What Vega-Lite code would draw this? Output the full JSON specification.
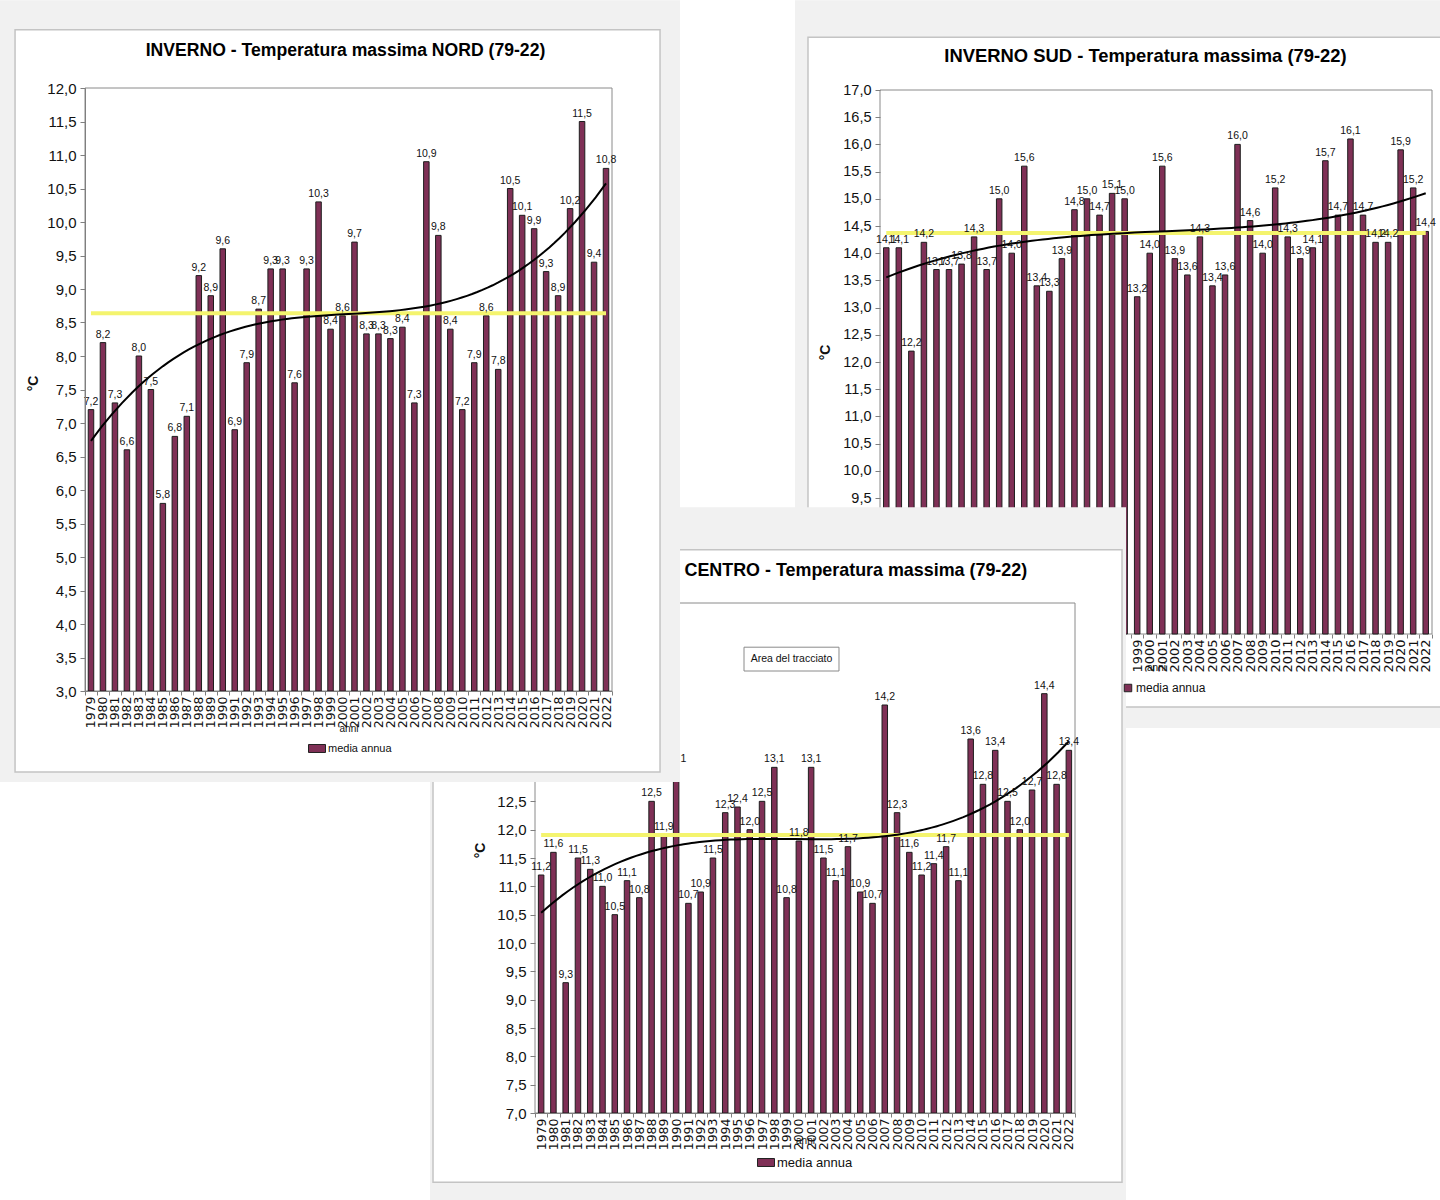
{
  "$schema": "https://vega.github.io/schema/vega-lite/v6.json",
  "width": 1440,
  "height": 1200,
  "autosize": {"type": "none"},
  "padding": 0,
  "background": "white",
  "config": {
    "locale": {"number": {"decimal": ",", "thousands": ".", "grouping": [3], "currency": ["€", ""]}},
    "view": {"stroke": null},
    "scale": {"continuousPadding": 0}
  },
  "datasets": {
    "nord": [
      {"anno": 1979, "t": 7.2}, {"anno": 1980, "t": 8.2}, {"anno": 1981, "t": 7.3}, {"anno": 1982, "t": 6.6},
      {"anno": 1983, "t": 8.0}, {"anno": 1984, "t": 7.5}, {"anno": 1985, "t": 5.8}, {"anno": 1986, "t": 6.8},
      {"anno": 1987, "t": 7.1}, {"anno": 1988, "t": 9.2}, {"anno": 1989, "t": 8.9}, {"anno": 1990, "t": 9.6},
      {"anno": 1991, "t": 6.9}, {"anno": 1992, "t": 7.9}, {"anno": 1993, "t": 8.7}, {"anno": 1994, "t": 9.3},
      {"anno": 1995, "t": 9.3}, {"anno": 1996, "t": 7.6}, {"anno": 1997, "t": 9.3}, {"anno": 1998, "t": 10.3},
      {"anno": 1999, "t": 8.4}, {"anno": 2000, "t": 8.6}, {"anno": 2001, "t": 9.7}, {"anno": 2002, "t": 8.33},
      {"anno": 2003, "t": 8.33}, {"anno": 2004, "t": 8.26}, {"anno": 2005, "t": 8.43}, {"anno": 2006, "t": 7.3},
      {"anno": 2007, "t": 10.9}, {"anno": 2008, "t": 9.8}, {"anno": 2009, "t": 8.4}, {"anno": 2010, "t": 7.2},
      {"anno": 2011, "t": 7.9}, {"anno": 2012, "t": 8.6}, {"anno": 2013, "t": 7.8}, {"anno": 2014, "t": 10.5},
      {"anno": 2015, "t": 10.1}, {"anno": 2016, "t": 9.9}, {"anno": 2017, "t": 9.26}, {"anno": 2018, "t": 8.9},
      {"anno": 2019, "t": 10.2}, {"anno": 2020, "t": 11.5}, {"anno": 2021, "t": 9.4}, {"anno": 2022, "t": 10.8}
    ],
    "sud": [
      {"anno": 1979, "t": 14.1}, {"anno": 1980, "t": 14.1}, {"anno": 1981, "t": 12.2}, {"anno": 1982, "t": 14.2},
      {"anno": 1983, "t": 13.7}, {"anno": 1984, "t": 13.7}, {"anno": 1985, "t": 13.8}, {"anno": 1986, "t": 14.3},
      {"anno": 1987, "t": 13.7}, {"anno": 1988, "t": 15.0}, {"anno": 1989, "t": 14.0}, {"anno": 1990, "t": 15.6},
      {"anno": 1991, "t": 13.4}, {"anno": 1992, "t": 13.3}, {"anno": 1993, "t": 13.9}, {"anno": 1994, "t": 14.8},
      {"anno": 1995, "t": 15.0}, {"anno": 1996, "t": 14.7}, {"anno": 1997, "t": 15.1}, {"anno": 1998, "t": 15.0},
      {"anno": 1999, "t": 13.2}, {"anno": 2000, "t": 14.0}, {"anno": 2001, "t": 15.6}, {"anno": 2002, "t": 13.9},
      {"anno": 2003, "t": 13.6}, {"anno": 2004, "t": 14.3}, {"anno": 2005, "t": 13.4}, {"anno": 2006, "t": 13.6},
      {"anno": 2007, "t": 16.0}, {"anno": 2008, "t": 14.6}, {"anno": 2009, "t": 14.0}, {"anno": 2010, "t": 15.2},
      {"anno": 2011, "t": 14.3}, {"anno": 2012, "t": 13.9}, {"anno": 2013, "t": 14.1}, {"anno": 2014, "t": 15.7},
      {"anno": 2015, "t": 14.7}, {"anno": 2016, "t": 16.1}, {"anno": 2017, "t": 14.7}, {"anno": 2018, "t": 14.2},
      {"anno": 2019, "t": 14.2}, {"anno": 2020, "t": 15.9}, {"anno": 2021, "t": 15.2}, {"anno": 2022, "t": 14.4}
    ],
    "centro": [
      {"anno": 1979, "t": 11.2}, {"anno": 1980, "t": 11.6}, {"anno": 1981, "t": 9.3}, {"anno": 1982, "t": 11.5},
      {"anno": 1983, "t": 11.3}, {"anno": 1984, "t": 11.0}, {"anno": 1985, "t": 10.5}, {"anno": 1986, "t": 11.1},
      {"anno": 1987, "t": 10.8}, {"anno": 1988, "t": 12.5}, {"anno": 1989, "t": 11.9}, {"anno": 1990, "t": 13.1},
      {"anno": 1991, "t": 10.7}, {"anno": 1992, "t": 10.9}, {"anno": 1993, "t": 11.5}, {"anno": 1994, "t": 12.3},
      {"anno": 1995, "t": 12.4}, {"anno": 1996, "t": 12.0}, {"anno": 1997, "t": 12.5}, {"anno": 1998, "t": 13.1},
      {"anno": 1999, "t": 10.8}, {"anno": 2000, "t": 11.8}, {"anno": 2001, "t": 13.1}, {"anno": 2002, "t": 11.5},
      {"anno": 2003, "t": 11.1}, {"anno": 2004, "t": 11.7}, {"anno": 2005, "t": 10.9}, {"anno": 2006, "t": 10.7},
      {"anno": 2007, "t": 14.2}, {"anno": 2008, "t": 12.3}, {"anno": 2009, "t": 11.6}, {"anno": 2010, "t": 11.2},
      {"anno": 2011, "t": 11.4}, {"anno": 2012, "t": 11.7}, {"anno": 2013, "t": 11.1}, {"anno": 2014, "t": 13.6},
      {"anno": 2015, "t": 12.8}, {"anno": 2016, "t": 13.4}, {"anno": 2017, "t": 12.5}, {"anno": 2018, "t": 12.0},
      {"anno": 2019, "t": 12.7}, {"anno": 2020, "t": 14.4}, {"anno": 2021, "t": 12.8}, {"anno": 2022, "t": 13.4}
    ]
  },
  "resolve": {
    "scale": {"x": "independent", "y": "independent", "color": "independent"},
    "axis": {"x": "independent", "y": "independent"},
    "legend": {"color": "independent"}
  },
  "layer": [
    {
      "resolve": {"axis": {"x": "independent", "y": "independent"}},
      "layer": [
        {
          "data": {"values": [{}]},
          "mark": {"type": "rect", "fill": "#f1f1f1"},
          "encoding": {
            "x": {"datum": 1971.72, "type": "quantitative", "scale": {"domain": [1978.5, 2022.5], "range": [880, 1432], "nice": false, "zero": false, "padding": 0}, "axis": null},
            "x2": {"datum": 2024.5},
            "y": {"datum": 18.65, "type": "quantitative", "scale": {"domain": [7, 17], "range": [634, 90], "nice": false, "zero": false, "padding": 0}, "axis": null},
            "y2": {"datum": 5.27}
          }
        },
        {
          "data": {"values": [{}]},
          "mark": {"type": "rect", "fill": "white", "stroke": "#c4c4c4", "strokeWidth": 1.5},
          "encoding": {
            "x": {"datum": 1972.76, "type": "quantitative", "scale": {"domain": [1978.5, 2022.5], "range": [880, 1432], "nice": false, "zero": false, "padding": 0}, "axis": null},
            "x2": {"datum": 2024.5},
            "y": {"datum": 17.97, "type": "quantitative", "scale": {"domain": [7, 17], "range": [634, 90], "nice": false, "zero": false, "padding": 0}, "axis": null},
            "y2": {"datum": 5.66}
          }
        },
        {
          "data": {"values": [{}]},
          "mark": {"type": "rect", "fill": "white", "stroke": "#8a8a8a", "strokeWidth": 1},
          "encoding": {
            "x": {"datum": 1978.5, "type": "quantitative", "scale": {"domain": [1978.5, 2022.5], "range": [880, 1432], "nice": false, "zero": false, "padding": 0}, "axis": null},
            "x2": {"datum": 2022.5},
            "y": {"datum": 17, "type": "quantitative", "scale": {"domain": [7, 17], "range": [634, 90], "nice": false, "zero": false, "padding": 0}, "axis": null},
            "y2": {"datum": 7}
          }
        },
        {
          "data": {"name": "sud"},
          "mark": {"type": "bar", "size": 5.5, "stroke": "#1e1e1e", "strokeWidth": 1},
          "encoding": {
            "x": {"field": "anno", "type": "quantitative", "scale": {"domain": [1978.5, 2022.5], "range": [880, 1432], "nice": false, "zero": false, "padding": 0},
              "axis": {"orient": "bottom", "offset": -566, "values": [1999,2000,2001,2002,2003,2004,2005,2006,2007,2008,2009,2010,2011,2012,2013,2014,2015,2016,2017,2018,2019,2020,2021,2022],
                "format": "d", "labelAngle": -90, "labelFont": "DejaVu Sans", "labelFontSize": 13, "labelColor": "#111", "labelPadding": 5, "labelOverlap": false, "labelFlush": false, "labelBound": false,
                "ticks": false, "domain": false, "grid": false,
                "title": "anni", "titleFont": "Liberation Sans", "titleFontSize": 10, "titleFontWeight": "normal", "titleColor": "#111", "titleY": 33, "titleBaseline": "middle", "zindex": 1}},
            "y": {"field": "t", "type": "quantitative", "scale": {"domain": [7, 17], "range": [634, 90], "nice": false, "zero": false, "padding": 0},
              "axis": {"orient": "left", "offset": -880, "values": [9.5,10,10.5,11,11.5,12,12.5,13,13.5,14,14.5,15,15.5,16,16.5,17],
                "format": ".1f", "labelFont": "Liberation Sans", "labelFontSize": 14.5, "labelColor": "#111", "labelPadding": 4,
                "tickSize": 5, "tickColor": "#7f7f7f", "domain": false, "grid": false, "labelOverlap": false, "labelFlush": false, "labelBound": false,
                "title": "°C", "titleFont": "Liberation Sans", "titleFontSize": 14, "titleFontWeight": "bold", "titleColor": "#111", "titleX": -55, "titleY": 352, "titleBaseline": "middle", "titleAngle": 270, "zindex": 1}},
            "y2": {"datum": 7},
            "color": {"datum": "media annua", "type": "nominal", "scale": {"range": ["#7f3056"]},
              "legend": {"orient": "none", "legendX": 1122, "legendY": 682, "title": null, "labelFont": "Liberation Sans", "labelFontSize": 12, "labelColor": "#111", "labelOffset": 2, "padding": 0, "symbolType": "square", "symbolSize": 56, "symbolStrokeColor": "#222", "symbolStrokeWidth": 1, "symbolOpacity": 1}}
          }
        },
        {
          "data": {"name": "sud"},
          "transform": [{"joinaggregate": [{"op": "mean", "field": "t", "as": "media"}]}],
          "mark": {"type": "line", "color": "#f4f46e", "strokeWidth": 4},
          "encoding": {
            "x": {"field": "anno", "type": "quantitative", "scale": {"domain": [1978.5, 2022.5], "range": [880, 1432], "nice": false, "zero": false, "padding": 0},
              "axis": {"orient": "top", "offset": -90, "labels": false, "ticks": false, "domain": false, "grid": false,
                "title": "INVERNO SUD - Temperatura massima (79-22)", "titleFont": "Liberation Sans", "titleFontSize": 18.4, "titleFontWeight": "bold", "titleColor": "#000", "titleX": 1145, "titleY": -35, "titleBaseline": "middle", "zindex": 1}},
            "y": {"field": "media", "type": "quantitative", "scale": {"domain": [7, 17], "range": [634, 90], "nice": false, "zero": false, "padding": 0}, "axis": null}
          }
        },
        {
          "data": {"name": "sud"},
          "transform": [{"regression": "t", "on": "anno", "method": "poly", "order": 3}],
          "mark": {"type": "line", "color": "#000", "strokeWidth": 2},
          "encoding": {
            "x": {"field": "anno", "type": "quantitative", "scale": {"domain": [1978.5, 2022.5], "range": [880, 1432], "nice": false, "zero": false, "padding": 0},
              "axis": {"orient": "bottom", "offset": -566, "values": [1998.5,1999.5,2000.5,2001.5,2002.5,2003.5,2004.5,2005.5,2006.5,2007.5,2008.5,2009.5,2010.5,2011.5,2012.5,2013.5,2014.5,2015.5,2016.5,2017.5,2018.5,2019.5,2020.5,2021.5,2022.5],
                "labels": false, "ticks": true, "tickSize": 4, "tickColor": "#7f7f7f", "domain": false, "grid": false, "title": null, "zindex": 1}},
            "y": {"field": "t", "type": "quantitative", "scale": {"domain": [7, 17], "range": [634, 90], "nice": false, "zero": false, "padding": 0}, "axis": null}
          }
        },
        {
          "data": {"name": "sud"},
          "mark": {"type": "text", "font": "Liberation Sans", "fontSize": 10.5, "color": "#111", "baseline": "alphabetic", "dy": -5},
          "encoding": {
            "x": {"field": "anno", "type": "quantitative", "scale": {"domain": [1978.5, 2022.5], "range": [880, 1432], "nice": false, "zero": false, "padding": 0}, "axis": null},
            "y": {"field": "t", "type": "quantitative", "scale": {"domain": [7, 17], "range": [634, 90], "nice": false, "zero": false, "padding": 0}, "axis": null},
            "text": {"field": "t", "type": "quantitative", "format": ".1f"}
          }
        }
      ]
    },
    {
      "resolve": {"axis": {"x": "independent", "y": "independent"}},
      "layer": [
        {
          "data": {"values": [{}]},
          "mark": {"type": "rect", "fill": "#f1f1f1"},
          "encoding": {
            "x": {"datum": 1969.94, "type": "quantitative", "scale": {"domain": [1978.5, 2022.5], "range": [535, 1075], "nice": false, "zero": false, "padding": 0}, "axis": null},
            "x2": {"datum": 2026.66},
            "y": {"datum": 17.69, "type": "quantitative", "scale": {"domain": [7, 16], "range": [1113, 603], "nice": false, "zero": false, "padding": 0}, "axis": null},
            "y2": {"datum": 5.2}
          }
        },
        {
          "data": {"values": [{}]},
          "mark": {"type": "rect", "fill": "white", "stroke": "#c4c4c4", "strokeWidth": 1.5},
          "encoding": {
            "x": {"datum": 1970.19, "type": "quantitative", "scale": {"domain": [1978.5, 2022.5], "range": [535, 1075], "nice": false, "zero": false, "padding": 0}, "axis": null},
            "x2": {"datum": 2026.33},
            "y": {"datum": 16.94, "type": "quantitative", "scale": {"domain": [7, 16], "range": [1113, 603], "nice": false, "zero": false, "padding": 0}, "axis": null},
            "y2": {"datum": 5.78}
          }
        },
        {
          "data": {"values": [{}]},
          "mark": {"type": "rect", "fill": "white", "stroke": "#8a8a8a", "strokeWidth": 1},
          "encoding": {
            "x": {"datum": 1978.5, "type": "quantitative", "scale": {"domain": [1978.5, 2022.5], "range": [535, 1075], "nice": false, "zero": false, "padding": 0}, "axis": null},
            "x2": {"datum": 2022.5},
            "y": {"datum": 16, "type": "quantitative", "scale": {"domain": [7, 16], "range": [1113, 603], "nice": false, "zero": false, "padding": 0}, "axis": null},
            "y2": {"datum": 7}
          }
        },
        {
          "data": {"name": "centro"},
          "mark": {"type": "bar", "size": 5.5, "stroke": "#1e1e1e", "strokeWidth": 1},
          "encoding": {
            "x": {"field": "anno", "type": "quantitative", "scale": {"domain": [1978.5, 2022.5], "range": [535, 1075], "nice": false, "zero": false, "padding": 0},
              "axis": {"orient": "bottom", "offset": -87, "values": [1979,1980,1981,1982,1983,1984,1985,1986,1987,1988,1989,1990,1991,1992,1993,1994,1995,1996,1997,1998,1999,2000,2001,2002,2003,2004,2005,2006,2007,2008,2009,2010,2011,2012,2013,2014,2015,2016,2017,2018,2019,2020,2021,2022],
                "format": "d", "labelAngle": -90, "labelFont": "DejaVu Sans", "labelFontSize": 12.5, "labelColor": "#111", "labelPadding": 5, "labelOverlap": false, "labelFlush": false, "labelBound": false,
                "ticks": false, "domain": true, "domainColor": "#7f7f7f", "grid": false,
                "title": "anni", "titleFont": "Liberation Sans", "titleFontSize": 10, "titleFontWeight": "normal", "titleColor": "#111", "titleY": 27, "titleBaseline": "middle", "zindex": 1}},
            "y": {"field": "t", "type": "quantitative", "scale": {"domain": [7, 16], "range": [1113, 603], "nice": false, "zero": false, "padding": 0},
              "axis": {"orient": "left", "offset": -535, "values": [7,7.5,8,8.5,9,9.5,10,10.5,11,11.5,12,12.5],
                "format": ".1f", "labelFont": "Liberation Sans", "labelFontSize": 15, "labelColor": "#111", "labelPadding": 4,
                "tickSize": 5, "tickColor": "#7f7f7f", "domain": false, "grid": false, "labelOverlap": false, "labelFlush": false, "labelBound": false,
                "title": "°C", "titleFont": "Liberation Sans", "titleFontSize": 14, "titleFontWeight": "bold", "titleColor": "#111", "titleX": -55, "titleY": 850, "titleBaseline": "middle", "titleAngle": 270, "zindex": 1}},
            "y2": {"datum": 7},
            "color": {"datum": "media annua", "type": "nominal", "scale": {"range": ["#7f3056"]},
              "legend": {"orient": "none", "legendX": 757, "legendY": 1153.5, "title": null, "labelFont": "Liberation Sans", "labelFontSize": 13, "labelColor": "#111", "labelOffset": 2, "padding": 0, "symbolType": "M-1,-0.47H1V0.47H-1Z", "symbolSize": 289, "symbolStrokeColor": "#222", "symbolStrokeWidth": 1, "symbolOpacity": 1}}
          }
        },
        {
          "data": {"name": "centro"},
          "transform": [{"joinaggregate": [{"op": "mean", "field": "t", "as": "media"}]}],
          "mark": {"type": "line", "color": "#f4f46e", "strokeWidth": 4},
          "encoding": {
            "x": {"field": "anno", "type": "quantitative", "scale": {"domain": [1978.5, 2022.5], "range": [535, 1075], "nice": false, "zero": false, "padding": 0},
              "axis": {"orient": "top", "offset": -603, "labels": false, "ticks": false, "domain": false, "grid": false,
                "title": "CENTRO - Temperatura massima (79-22)", "titleFont": "Liberation Sans", "titleFontSize": 17.9, "titleFontWeight": "bold", "titleColor": "#000", "titleX": 684, "titleAlign": "left", "titleY": -33, "titleBaseline": "middle", "zindex": 1}},
            "y": {"field": "media", "type": "quantitative", "scale": {"domain": [7, 16], "range": [1113, 603], "nice": false, "zero": false, "padding": 0}, "axis": null}
          }
        },
        {
          "data": {"name": "centro"},
          "transform": [{"regression": "t", "on": "anno", "method": "poly", "order": 3}],
          "mark": {"type": "line", "color": "#000", "strokeWidth": 2},
          "encoding": {
            "x": {"field": "anno", "type": "quantitative", "scale": {"domain": [1978.5, 2022.5], "range": [535, 1075], "nice": false, "zero": false, "padding": 0},
              "axis": {"orient": "bottom", "offset": -87, "values": [1978.5,1979.5,1980.5,1981.5,1982.5,1983.5,1984.5,1985.5,1986.5,1987.5,1988.5,1989.5,1990.5,1991.5,1992.5,1993.5,1994.5,1995.5,1996.5,1997.5,1998.5,1999.5,2000.5,2001.5,2002.5,2003.5,2004.5,2005.5,2006.5,2007.5,2008.5,2009.5,2010.5,2011.5,2012.5,2013.5,2014.5,2015.5,2016.5,2017.5,2018.5,2019.5,2020.5,2021.5,2022.5],
                "labels": false, "ticks": true, "tickSize": 4, "tickColor": "#7f7f7f", "domain": false, "grid": false, "title": null, "zindex": 1}},
            "y": {"field": "t", "type": "quantitative", "scale": {"domain": [7, 16], "range": [1113, 603], "nice": false, "zero": false, "padding": 0}, "axis": null}
          }
        },
        {
          "data": {"name": "centro"},
          "mark": {"type": "text", "font": "Liberation Sans", "fontSize": 10.5, "color": "#111", "baseline": "alphabetic", "dy": -5},
          "encoding": {
            "x": {"field": "anno", "type": "quantitative", "scale": {"domain": [1978.5, 2022.5], "range": [535, 1075], "nice": false, "zero": false, "padding": 0}, "axis": null},
            "y": {"field": "t", "type": "quantitative", "scale": {"domain": [7, 16], "range": [1113, 603], "nice": false, "zero": false, "padding": 0}, "axis": null},
            "text": {"field": "t", "type": "quantitative", "format": ".1f"}
          }
        },
        {
          "data": {"values": [{"testo": "Area del tracciato"}]},
          "mark": {"type": "rect", "fill": "white", "stroke": "#8a8a8a", "strokeWidth": 1},
          "encoding": {
            "x": {"datum": 1995.53, "type": "quantitative", "scale": {"domain": [1978.5, 2022.5], "range": [535, 1075], "nice": false, "zero": false, "padding": 0}, "axis": null},
            "x2": {"datum": 2003.27},
            "y": {"datum": 15.22, "type": "quantitative", "scale": {"domain": [7, 16], "range": [1113, 603], "nice": false, "zero": false, "padding": 0}, "axis": null},
            "y2": {"datum": 14.8}
          }
        },
        {
          "data": {"values": [{"testo": "Area del tracciato"}]},
          "mark": {"type": "text", "font": "Liberation Sans", "fontSize": 10.5, "color": "#111", "baseline": "middle", "align": "center"},
          "encoding": {
            "x": {"datum": 1999.4, "type": "quantitative", "scale": {"domain": [1978.5, 2022.5], "range": [535, 1075], "nice": false, "zero": false, "padding": 0}, "axis": null},
            "y": {"datum": 15.01, "type": "quantitative", "scale": {"domain": [7, 16], "range": [1113, 603], "nice": false, "zero": false, "padding": 0}, "axis": null},
            "text": {"field": "testo", "type": "nominal"}
          }
        }
      ]
    },
    {
      "resolve": {"axis": {"x": "independent", "y": "independent"}},
      "layer": [
        {
          "data": {"values": [{}]},
          "mark": {"type": "rect", "fill": "#f1f1f1"},
          "encoding": {
            "x": {"datum": 1971.4, "type": "quantitative", "scale": {"domain": [1978.5, 2022.5], "range": [85, 612], "nice": false, "zero": false, "padding": 0}, "axis": null},
            "x2": {"datum": 2028.18},
            "y": {"datum": 13.31, "type": "quantitative", "scale": {"domain": [3, 12], "range": [691, 88], "nice": false, "zero": false, "padding": 0}, "axis": null},
            "y2": {"datum": 1.64}
          }
        },
        {
          "data": {"values": [{}]},
          "mark": {"type": "rect", "fill": "white", "stroke": "#c4c4c4", "strokeWidth": 1.5},
          "encoding": {
            "x": {"datum": 1972.66, "type": "quantitative", "scale": {"domain": [1978.5, 2022.5], "range": [85, 612], "nice": false, "zero": false, "padding": 0}, "axis": null},
            "x2": {"datum": 2026.51},
            "y": {"datum": 12.87, "type": "quantitative", "scale": {"domain": [3, 12], "range": [691, 88], "nice": false, "zero": false, "padding": 0}, "axis": null},
            "y2": {"datum": 1.79}
          }
        },
        {
          "data": {"values": [{}]},
          "mark": {"type": "rect", "fill": "white", "stroke": "#8a8a8a", "strokeWidth": 1},
          "encoding": {
            "x": {"datum": 1978.5, "type": "quantitative", "scale": {"domain": [1978.5, 2022.5], "range": [85, 612], "nice": false, "zero": false, "padding": 0}, "axis": null},
            "x2": {"datum": 2022.5},
            "y": {"datum": 12, "type": "quantitative", "scale": {"domain": [3, 12], "range": [691, 88], "nice": false, "zero": false, "padding": 0}, "axis": null},
            "y2": {"datum": 3}
          }
        },
        {
          "data": {"name": "nord"},
          "mark": {"type": "bar", "size": 5.5, "stroke": "#1e1e1e", "strokeWidth": 1},
          "encoding": {
            "x": {"field": "anno", "type": "quantitative", "scale": {"domain": [1978.5, 2022.5], "range": [85, 612], "nice": false, "zero": false, "padding": 0},
              "axis": {"orient": "bottom", "offset": -509, "values": [1979,1980,1981,1982,1983,1984,1985,1986,1987,1988,1989,1990,1991,1992,1993,1994,1995,1996,1997,1998,1999,2000,2001,2002,2003,2004,2005,2006,2007,2008,2009,2010,2011,2012,2013,2014,2015,2016,2017,2018,2019,2020,2021,2022],
                "format": "d", "labelAngle": -90, "labelFont": "DejaVu Sans", "labelFontSize": 12.5, "labelColor": "#111", "labelPadding": 5, "labelOverlap": false, "labelFlush": false, "labelBound": false,
                "ticks": false, "domain": true, "domainColor": "#7f7f7f", "grid": false,
                "title": "anni", "titleFont": "Liberation Sans", "titleFontSize": 10, "titleFontWeight": "normal", "titleColor": "#111", "titleY": 37, "titleBaseline": "middle", "zindex": 1}},
            "y": {"field": "t", "type": "quantitative", "scale": {"domain": [3, 12], "range": [691, 88], "nice": false, "zero": false, "padding": 0},
              "axis": {"orient": "left", "offset": -85, "values": [3,3.5,4,4.5,5,5.5,6,6.5,7,7.5,8,8.5,9,9.5,10,10.5,11,11.5,12],
                "format": ".1f", "labelFont": "Liberation Sans", "labelFontSize": 15, "labelColor": "#111", "labelPadding": 4,
                "tickSize": 5, "tickColor": "#7f7f7f", "domain": true, "domainColor": "#7f7f7f", "grid": false, "labelOverlap": false, "labelFlush": false, "labelBound": false,
                "title": "°C", "titleFont": "Liberation Sans", "titleFontSize": 14, "titleFontWeight": "bold", "titleColor": "#111", "titleX": -52, "titleY": 383, "titleBaseline": "middle", "titleAngle": 270, "zindex": 1}},
            "y2": {"datum": 3},
            "color": {"datum": "media annua", "type": "nominal", "scale": {"range": ["#7f3056"]},
              "legend": {"orient": "none", "legendX": 308, "legendY": 739.5, "title": null, "labelFont": "Liberation Sans", "labelFontSize": 11, "labelColor": "#111", "labelOffset": 2, "padding": 0, "symbolType": "M-1,-0.47H1V0.47H-1Z", "symbolSize": 289, "symbolStrokeColor": "#222", "symbolStrokeWidth": 1, "symbolOpacity": 1}}
          }
        },
        {
          "data": {"name": "nord"},
          "transform": [{"joinaggregate": [{"op": "mean", "field": "t", "as": "media"}]}],
          "mark": {"type": "line", "color": "#f4f46e", "strokeWidth": 4},
          "encoding": {
            "x": {"field": "anno", "type": "quantitative", "scale": {"domain": [1978.5, 2022.5], "range": [85, 612], "nice": false, "zero": false, "padding": 0},
              "axis": {"orient": "top", "offset": -88, "labels": false, "ticks": false, "domain": false, "grid": false,
                "title": "INVERNO - Temperatura massima NORD (79-22)", "titleFont": "Liberation Sans", "titleFontSize": 17.6, "titleFontWeight": "bold", "titleColor": "#000", "titleX": 345, "titleY": -38, "titleBaseline": "middle", "zindex": 1}},
            "y": {"field": "media", "type": "quantitative", "scale": {"domain": [3, 12], "range": [691, 88], "nice": false, "zero": false, "padding": 0}, "axis": null}
          }
        },
        {
          "data": {"name": "nord"},
          "transform": [{"regression": "t", "on": "anno", "method": "poly", "order": 3}],
          "mark": {"type": "line", "color": "#000", "strokeWidth": 2},
          "encoding": {
            "x": {"field": "anno", "type": "quantitative", "scale": {"domain": [1978.5, 2022.5], "range": [85, 612], "nice": false, "zero": false, "padding": 0},
              "axis": {"orient": "bottom", "offset": -509, "values": [1978.5,1979.5,1980.5,1981.5,1982.5,1983.5,1984.5,1985.5,1986.5,1987.5,1988.5,1989.5,1990.5,1991.5,1992.5,1993.5,1994.5,1995.5,1996.5,1997.5,1998.5,1999.5,2000.5,2001.5,2002.5,2003.5,2004.5,2005.5,2006.5,2007.5,2008.5,2009.5,2010.5,2011.5,2012.5,2013.5,2014.5,2015.5,2016.5,2017.5,2018.5,2019.5,2020.5,2021.5,2022.5],
                "labels": false, "ticks": true, "tickSize": 4, "tickColor": "#7f7f7f", "domain": false, "grid": false, "title": null, "zindex": 1}},
            "y": {"field": "t", "type": "quantitative", "scale": {"domain": [3, 12], "range": [691, 88], "nice": false, "zero": false, "padding": 0}, "axis": null}
          }
        },
        {
          "data": {"name": "nord"},
          "mark": {"type": "text", "font": "Liberation Sans", "fontSize": 10.5, "color": "#111", "baseline": "alphabetic", "dy": -5},
          "encoding": {
            "x": {"field": "anno", "type": "quantitative", "scale": {"domain": [1978.5, 2022.5], "range": [85, 612], "nice": false, "zero": false, "padding": 0}, "axis": null},
            "y": {"field": "t", "type": "quantitative", "scale": {"domain": [3, 12], "range": [691, 88], "nice": false, "zero": false, "padding": 0}, "axis": null},
            "text": {"field": "t", "type": "quantitative", "format": ".1f"}
          }
        }
      ]
    }
  ]
}
